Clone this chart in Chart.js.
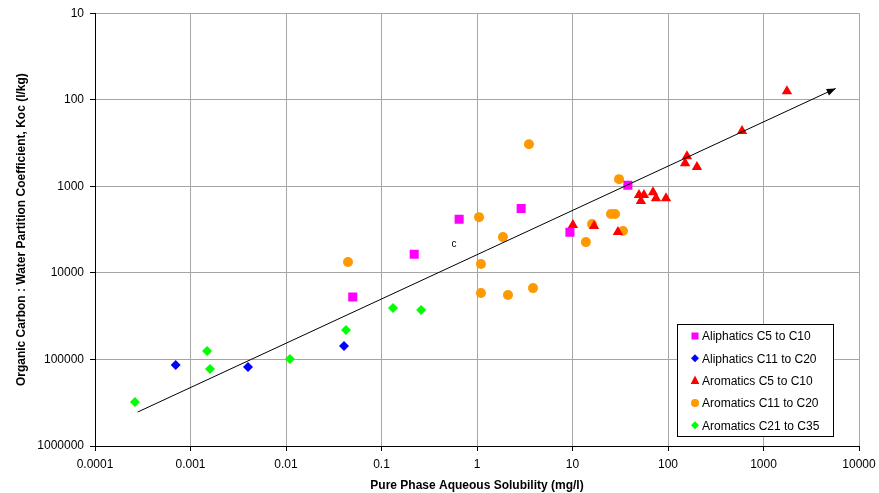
<!DOCTYPE html>
<html lang="en">
  <head>
    <meta charset="UTF-8" />
    <title>Koc vs Solubility</title>
    <style>
      body {
        margin: 0;
        background: #ffffff;
      }
      .chart-container {
        width: 879px;
        height: 493px;
      }
    </style>
  </head>
  <body>
    <div class="chart-container">
      <canvas id="kocChart" width="879" height="493"></canvas>
    </div>

    <script src="https://cdn.jsdelivr.net/npm/chart.js"></script>
    <script>
      // series values
      const aliphC5C10X = [0.65, 2.9, 38, 9.4, 0.22, 0.05];
      const aliphC5C10Y = [2400, 1800, 970, 3400, 6100, 19000];

      const aliphC11C20X = [0.0007, 0.004, 0.0405];
      const aliphC11C20Y = [116000, 122000, 70000];

      const aromC5C10X = [10.1, 16.8, 29.9, 49.7, 52, 56, 69.7, 74.8, 95.3, 158, 151, 201, 596, 1760];
      const aromC5C10Y = [2800, 2880, 3380, 1260, 1480, 1260, 1170, 1370, 1370, 448, 540, 600, 230, 80];

      const aromC11C20X = [0.0446, 1.05, 1.1, 1.1, 3.5, 30.7, 25.3, 27.9, 16, 33.8, 13.8, 1.87, 2.11, 3.86];
      const aromC11C20Y = [7500, 2270, 7900, 17100, 326, 826, 2090, 2090, 2730, 3290, 4410, 3860, 18000, 15000];

      const aromC21C35X = [0.000262, 0.00149, 0.0016, 0.011, 0.0425, 0.132, 0.26];
      const aromC21C35Y = [310000, 80000, 129000, 99000, 45800, 25500, 26900];

      // trend arrow, start -> end
      const trendX = [0.00028, 5700];
      const trendY = [405000, 74];

      // stray label in the plot
      const noteLabel = { x: 0.574, y: 4650, text: "c" };

      const xTicks = [0.0001, 0.001, 0.01, 0.1, 1, 10, 100, 1000, 10000];
      const yTicks = [10, 100, 1000, 10000, 100000, 1000000];

      const FONT = "Arial, 'Liberation Sans', sans-serif";

      const toPoints = (xs, ys) => xs.map((x, i) => ({ x: x, y: ys[i] }));

      const series = [
        { label: "Aliphatics C5 to C10", xs: aliphC5C10X, ys: aliphC5C10Y, color: "#ff00ff", style: "rect", r: 6.4 },
        { label: "Aliphatics C11 to C20", xs: aliphC11C20X, ys: aliphC11C20Y, color: "#0000ff", style: "rectRot", r: 5 },
        { label: "Aromatics C5 to C10", xs: aromC5C10X, ys: aromC5C10Y, color: "#ff0000", style: "triangle", r: 6 },
        { label: "Aromatics C11 to C20", xs: aromC11C20X, ys: aromC11C20Y, color: "#ff9900", style: "circle", r: 5 },
        { label: "Aromatics C21 to C35", xs: aromC21C35X, ys: aromC21C35Y, color: "#00ff00", style: "rectRot", r: 5 },
      ];

      const datasets = [
        {
          label: "trend",
          type: "line",
          data: toPoints(trendX, trendY),
          borderColor: "#000000",
          borderWidth: 1,
          pointRadius: 0,
          showLine: true,
          fill: false,
        },
      ].concat(
        series.map((s) => ({
          label: s.label,
          data: toPoints(s.xs, s.ys),
          backgroundColor: s.color,
          borderColor: s.color,
          borderWidth: 0,
          pointStyle: s.style,
          pointRadius: s.r,
          pointHoverRadius: s.r,
        }))
      );

      // arrow head, the "c" note and the boxed legend
      const extrasPlugin = {
        id: "extras",
        afterDatasetsDraw(chart) {
          const ctx = chart.ctx;
          const xs = chart.scales.x;
          const ys = chart.scales.y;

          // arrow head at the end of the trend line
          const x0 = xs.getPixelForValue(trendX[0]);
          const y0 = ys.getPixelForValue(trendY[0]);
          const x1 = xs.getPixelForValue(trendX[1]);
          const y1 = ys.getPixelForValue(trendY[1]);
          const ang = Math.atan2(y1 - y0, x1 - x0);
          const len = 9;
          const half = 3.5;
          ctx.save();
          ctx.fillStyle = "#000";
          ctx.beginPath();
          ctx.moveTo(x1, y1);
          ctx.lineTo(
            x1 - len * Math.cos(ang) + half * Math.sin(ang),
            y1 - len * Math.sin(ang) - half * Math.cos(ang)
          );
          ctx.lineTo(
            x1 - len * Math.cos(ang) - half * Math.sin(ang),
            y1 - len * Math.sin(ang) + half * Math.cos(ang)
          );
          ctx.closePath();
          ctx.fill();

          // stray "c"
          ctx.font = "10px " + FONT;
          ctx.textAlign = "center";
          ctx.textBaseline = "middle";
          ctx.fillText(noteLabel.text, xs.getPixelForValue(noteLabel.x), ys.getPixelForValue(noteLabel.y));

          // legend box in the lower right of the plot
          const area = chart.chartArea;
          const bw = 156;
          const bh = 112;
          const bx = area.right - 26 - bw;
          const by = area.bottom - 10 - bh;
          ctx.fillStyle = "#fff";
          ctx.fillRect(bx, by, bw, bh);
          ctx.strokeStyle = "#000";
          ctx.lineWidth = 1;
          ctx.strokeRect(bx + 0.5, by + 0.5, bw, bh);
          ctx.font = "12px " + FONT;
          ctx.textAlign = "left";
          series.forEach((s, i) => {
            const cy = by + 12 + i * 22.3;
            const cx = bx + 18;
            ctx.fillStyle = s.color;
            ctx.beginPath();
            if (s.style === "rect") {
              ctx.rect(cx - 3.5, cy - 3.5, 7, 7);
            } else if (s.style === "circle") {
              ctx.arc(cx, cy, 4, 0, Math.PI * 2);
            } else if (s.style === "triangle") {
              const r = 5;
              ctx.moveTo(cx, cy - r);
              ctx.lineTo(cx + r * 0.866, cy + r / 2 + 1);
              ctx.lineTo(cx - r * 0.866, cy + r / 2 + 1);
            } else {
              const r = 4;
              ctx.moveTo(cx, cy - r);
              ctx.lineTo(cx + r, cy);
              ctx.lineTo(cx, cy + r);
              ctx.lineTo(cx - r, cy);
            }
            ctx.closePath();
            ctx.fill();
            ctx.fillStyle = "#000";
            ctx.fillText(s.label, bx + 25, cy + 1);
          });
          ctx.restore();
        },
      };

      const config = {
        type: "scatter",
        data: { datasets: datasets },
        plugins: [extrasPlugin],
        options: {
          responsive: false,
          animation: false,
          layout: { padding: { left: 10, top: 13, right: 20, bottom: 0 } },
          plugins: {
            legend: { display: false },
            tooltip: { enabled: false },
          },
          scales: {
            x: {
              type: "logarithmic",
              min: 0.0001,
              max: 10000,
              afterBuildTicks: (scale) => {
                scale.ticks = xTicks.map((v) => ({ value: v }));
              },
              afterFit: (scale) => {
                scale.height = 47;
                scale.paddingLeft = 0;
                scale.paddingRight = 0;
              },
              ticks: {
                autoSkip: false,
                maxRotation: 0,
                padding: 6,
                color: "#000",
                font: { family: FONT, size: 12 },
                callback: (v) => String(v),
              },
              grid: { color: "#a6a6a6", tickColor: "#000", tickLength: 5 },
              border: { color: "#000", width: 1 },
              title: {
                display: true,
                text: "Pure Phase Aqueous Solubility (mg/l)",
                color: "#000",
                font: { family: FONT, size: 12, weight: "bold" },
                padding: { top: 0, bottom: 0 },
              },
            },
            y: {
              type: "logarithmic",
              reverse: true,
              min: 10,
              max: 1000000,
              afterBuildTicks: (scale) => {
                scale.ticks = yTicks.map((v) => ({ value: v }));
              },
              afterFit: (scale) => {
                scale.width = 85;
              },
              ticks: {
                autoSkip: false,
                padding: 6,
                color: "#000",
                font: { family: FONT, size: 12 },
                callback: (v) => String(v),
              },
              grid: { color: "#a6a6a6", tickColor: "#000", tickLength: 5 },
              border: { color: "#000", width: 1 },
              title: {
                display: true,
                text: "Organic Carbon : Water Partition Coefficient, Koc (l/kg)",
                color: "#000",
                font: { family: FONT, size: 12, weight: "bold" },
                padding: { top: 4, bottom: 0 },
              },
            },
          },
        },
      };

      const kocChart = new Chart(document.getElementById("kocChart"), config);
    </script>
  </body>
</html>
